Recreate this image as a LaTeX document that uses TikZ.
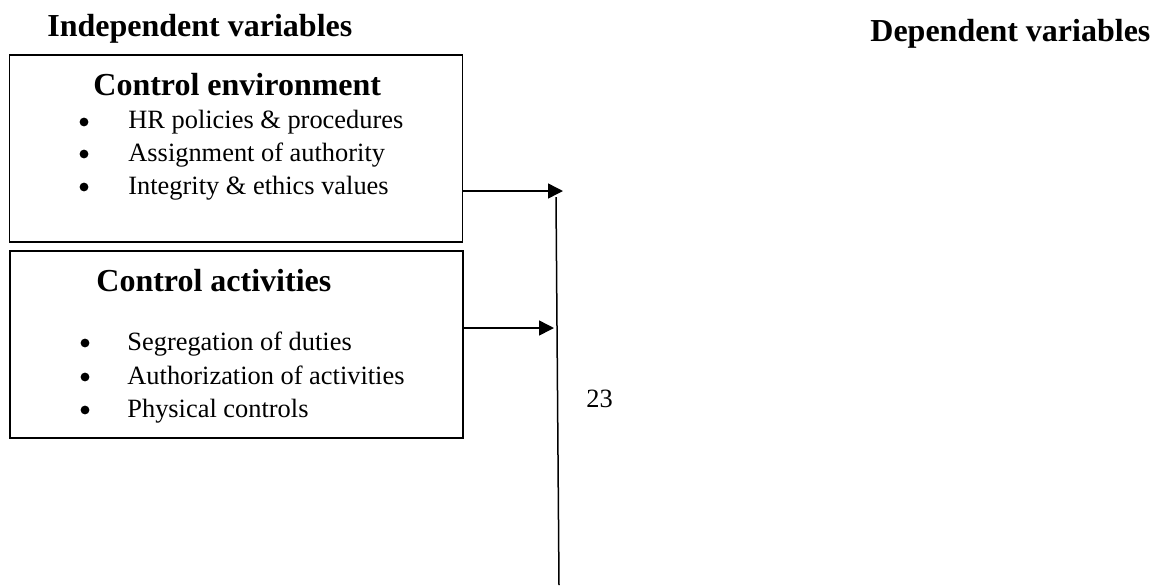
\documentclass[tikz,border=0pt]{standalone}
\usepackage{fontspec}
\setmainfont{Liberation Serif}
\usetikzlibrary{arrows.meta, positioning}

\begin{document}
\begin{tikzpicture}[x=0.5pt, y=-0.5pt, >={Triangle[length=7.5pt, width=7.5pt]},
    hdr/.style={anchor=base west, inner sep=0pt, font=\fontsize{16}{19}\selectfont\bfseries},
    txt/.style={anchor=base west, inner sep=0pt, font=\fontsize{13.2}{16}\selectfont},
    dot/.style={circle, fill, inner sep=0pt, minimum size=4.4pt},
    box/.style={draw, line width=0.85pt, minimum width=226.5pt, minimum height=93.5pt, inner sep=0pt}]
    \useasboundingbox (0,0) rectangle (1152,585);

    % 1. Column headings
    \node[hdr] (indep) at (47,36) {Independent variables};
    \node[hdr] (dep) at (870,41) {Dependent variables};

    % 2. First box: control environment
    \node[box] (env) at (236,148.5) {};
    \node[hdr] (envT) at (93,95) {Control environment};
    \node[dot] (e1) at (84,122) {};
    \node[dot] (e2) at (84,154) {};
    \node[dot] (e3) at (84,187) {};
    \node[txt] (envA) at (128,128) {HR policies \& procedures};
    \node[txt] (envB) at (128,161) {Assignment of authority};
    \node[txt] (envC) at (128,194) {Integrity \& ethics values};

    % 3. Second box: control activities
    \node[box] (act) at (236.5,344.5) {};
    \node[hdr] (actT) at (96,291) {Control activities};
    \node[dot] (a1) at (85,343) {};
    \node[dot] (a2) at (85,377) {};
    \node[dot] (a3) at (85,410) {};
    \node[txt] (actA) at (127,350) {Segregation of duties};
    \node[txt] (actB) at (127,384) {Authorization of activities};
    \node[txt] (actC) at (127,417) {Physical controls};

    % 4. Arrows and the long vertical line
    \coordinate (tip1) at (563,191);
    \coordinate (tip2) at (554,328);
    \coordinate (lineTop) at (556,197);
    \coordinate (lineBot) at (559,585);
    \draw[->, line width=0.75pt] (env.east |- tip1) -- (tip1);
    \draw[->, line width=0.75pt] (act.east |- tip2) -- (tip2);
    \draw[line width=0.75pt] (lineTop) -- (lineBot);

    \node[txt] (num) at (586,407) {23};
\end{tikzpicture}
\end{document}
